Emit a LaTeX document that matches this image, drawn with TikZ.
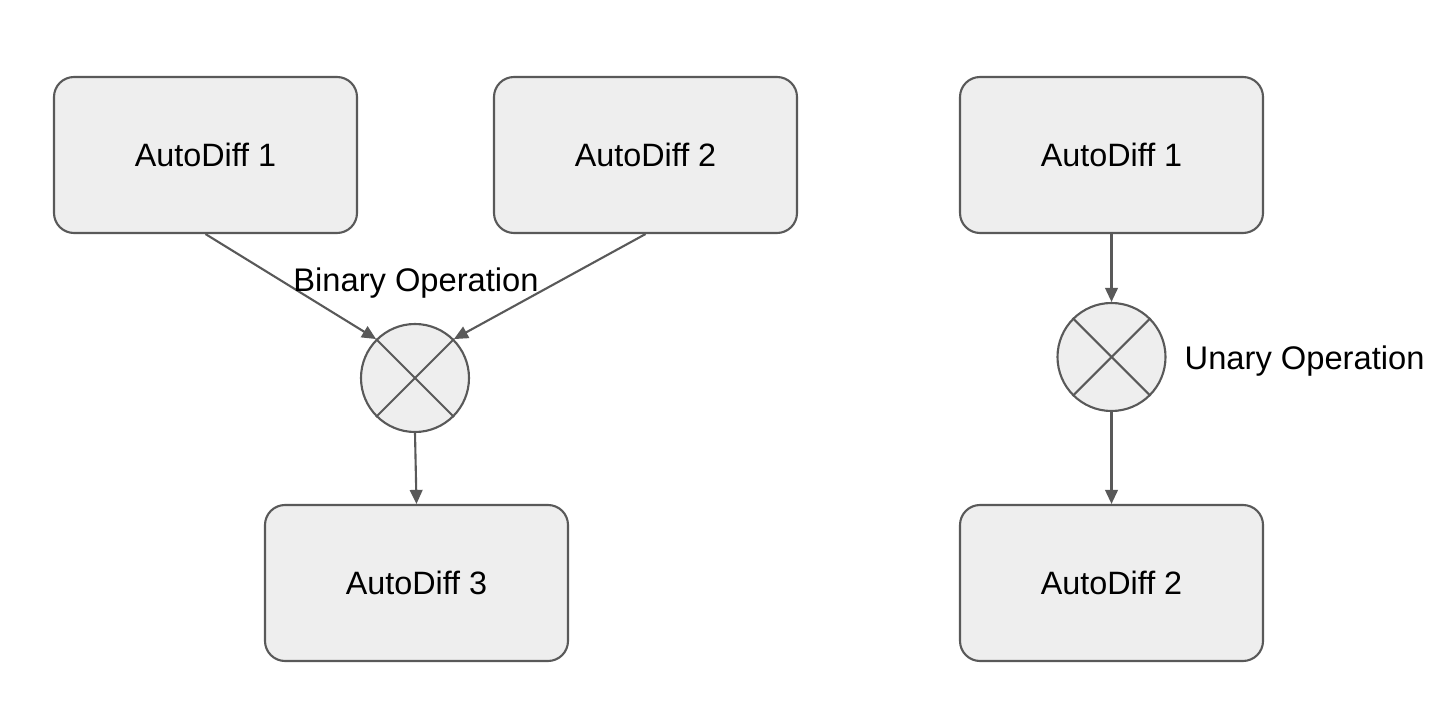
\documentclass[tikz,border=0pt]{standalone}
\usepackage{fontspec}
\setmainfont{Liberation Sans}
\usetikzlibrary{arrows.meta}
\definecolor{boxfill}{HTML}{EEEEEE}
\definecolor{boxline}{HTML}{595959}
\begin{document}
\begin{tikzpicture}
% Estilos para componentes
\tikzstyle{diffbox} = [rectangle, rounded corners=0.2cm, minimum width=3.03cm, minimum height=1.56cm, fill=boxfill, draw=boxline, line width=0.6pt, text centered, font=\fontsize{9.2}{11}\selectfont]
\tikzstyle{opnode} = [circle, minimum size=1.08cm, inner sep=0pt, fill=boxfill, draw=boxline, line width=0.6pt]
\tikzstyle{oplabel} = [font=\fontsize{9.3}{11}\selectfont, inner sep=0pt]
\tikzstyle{link} = [-{Triangle[length=4pt, width=3.6pt]}, draw=boxline, line width=0.6pt]

\useasboundingbox (0,0) rectangle (14.52,7.10);

% Operacion binaria
\node[diffbox] (adA) at (2.055,5.55) {AutoDiff 1};
\node[diffbox] (adB) at (6.455,5.55) {AutoDiff 2};
\node[opnode] (binop) at (4.15,3.32) {};
\draw[boxline, line width=0.6pt] (binop.north west) -- (binop.south east);
\draw[boxline, line width=0.6pt] (binop.north east) -- (binop.south west);
\node[diffbox] (adC) at (4.165,1.27) {AutoDiff 3};

\draw[link] (adA.south) -- (binop.north west);
\draw[link] (adB.south) -- (binop.north east);
\draw[link] (binop.south) -- (adC.north);
\node[oplabel] (binlabel) at (4.16,4.27) {Binary Operation};

% Operacion unaria
\node[diffbox] (adD) at (11.115,5.55) {AutoDiff 1};
\node[opnode] (unop) at (11.115,3.53) {};
\draw[boxline, line width=0.6pt] (unop.north west) -- (unop.south east);
\draw[boxline, line width=0.6pt] (unop.north east) -- (unop.south west);
\node[diffbox] (adE) at (11.115,1.27) {AutoDiff 2};

\draw[link] (adD.south) -- (unop.north);
\draw[link] (unop.south) -- (adE.north);
\node[oplabel, anchor=west] (unlabel) at (11.84,3.49) {Unary Operation};
\end{tikzpicture}
\end{document}
